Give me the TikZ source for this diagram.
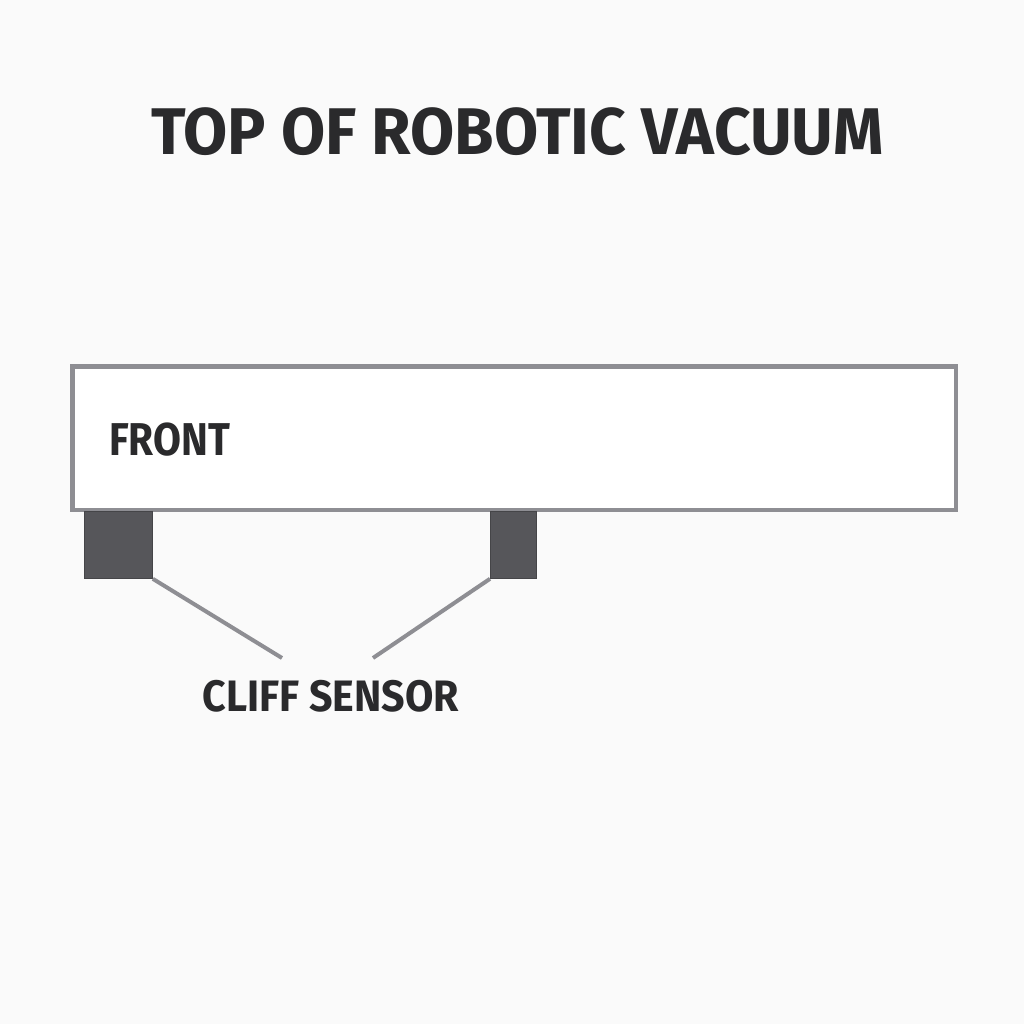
\documentclass[tikz,border=0pt]{standalone}
\usepackage{fontspec}
\setmainfont{Fira Sans}
\definecolor{txt}{HTML}{2A2A2C}
\definecolor{frame}{HTML}{8E8E93}
\definecolor{sensor}{HTML}{56565A}
\definecolor{bg}{HTML}{FAFAFA}
\begin{document}
\begin{tikzpicture}[x=1pt,y=-1pt,
  lbl/.style={text=txt,font=\bfseries,inner sep=0pt},
  sensorbox/.style={fill=sensor,draw=sensor!80!black,line width=0.8pt},
  lead/.style={draw=frame,line width=4pt}]
\fill[bg] (0,0) rectangle (1024,1024);
\useasboundingbox (0,0) rectangle (1024,1024);
\node[lbl,font=\bfseries\fontsize{66}{70}\selectfont,anchor=base,xscale=0.97] (title) at (517.5,155) {TOP OF ROBOTIC VACUUM};
\node[draw=frame,fill=white,line width=4.5pt,minimum width=883.5pt,minimum height=143.5pt,anchor=north west,inner sep=0pt] (body) at (70.25,364.25) {};
\node[lbl,font=\bfseries\fontsize{46}{50}\selectfont,anchor=base west,xscale=0.88] (front) at (109,455) {FRONT};
\node[sensorbox,minimum width=68pt,minimum height=67pt,anchor=north west,inner sep=0pt] (s1) at (84,511) {};
\node[sensorbox,minimum width=46pt,minimum height=67pt,anchor=north west,inner sep=0pt] (s2) at (490,511) {};
\coordinate (e1) at (282,658);
\coordinate (e2) at (373,658);
\draw[lead] (s1.south east) -- (e1);
\draw[lead] (s2.south west) -- (e2);
\node[lbl,font=\bfseries\fontsize{44}{48}\selectfont,anchor=base,xscale=0.935] (cliff) at (331,711) {CLIFF SENSOR};
\end{tikzpicture}
\end{document}
